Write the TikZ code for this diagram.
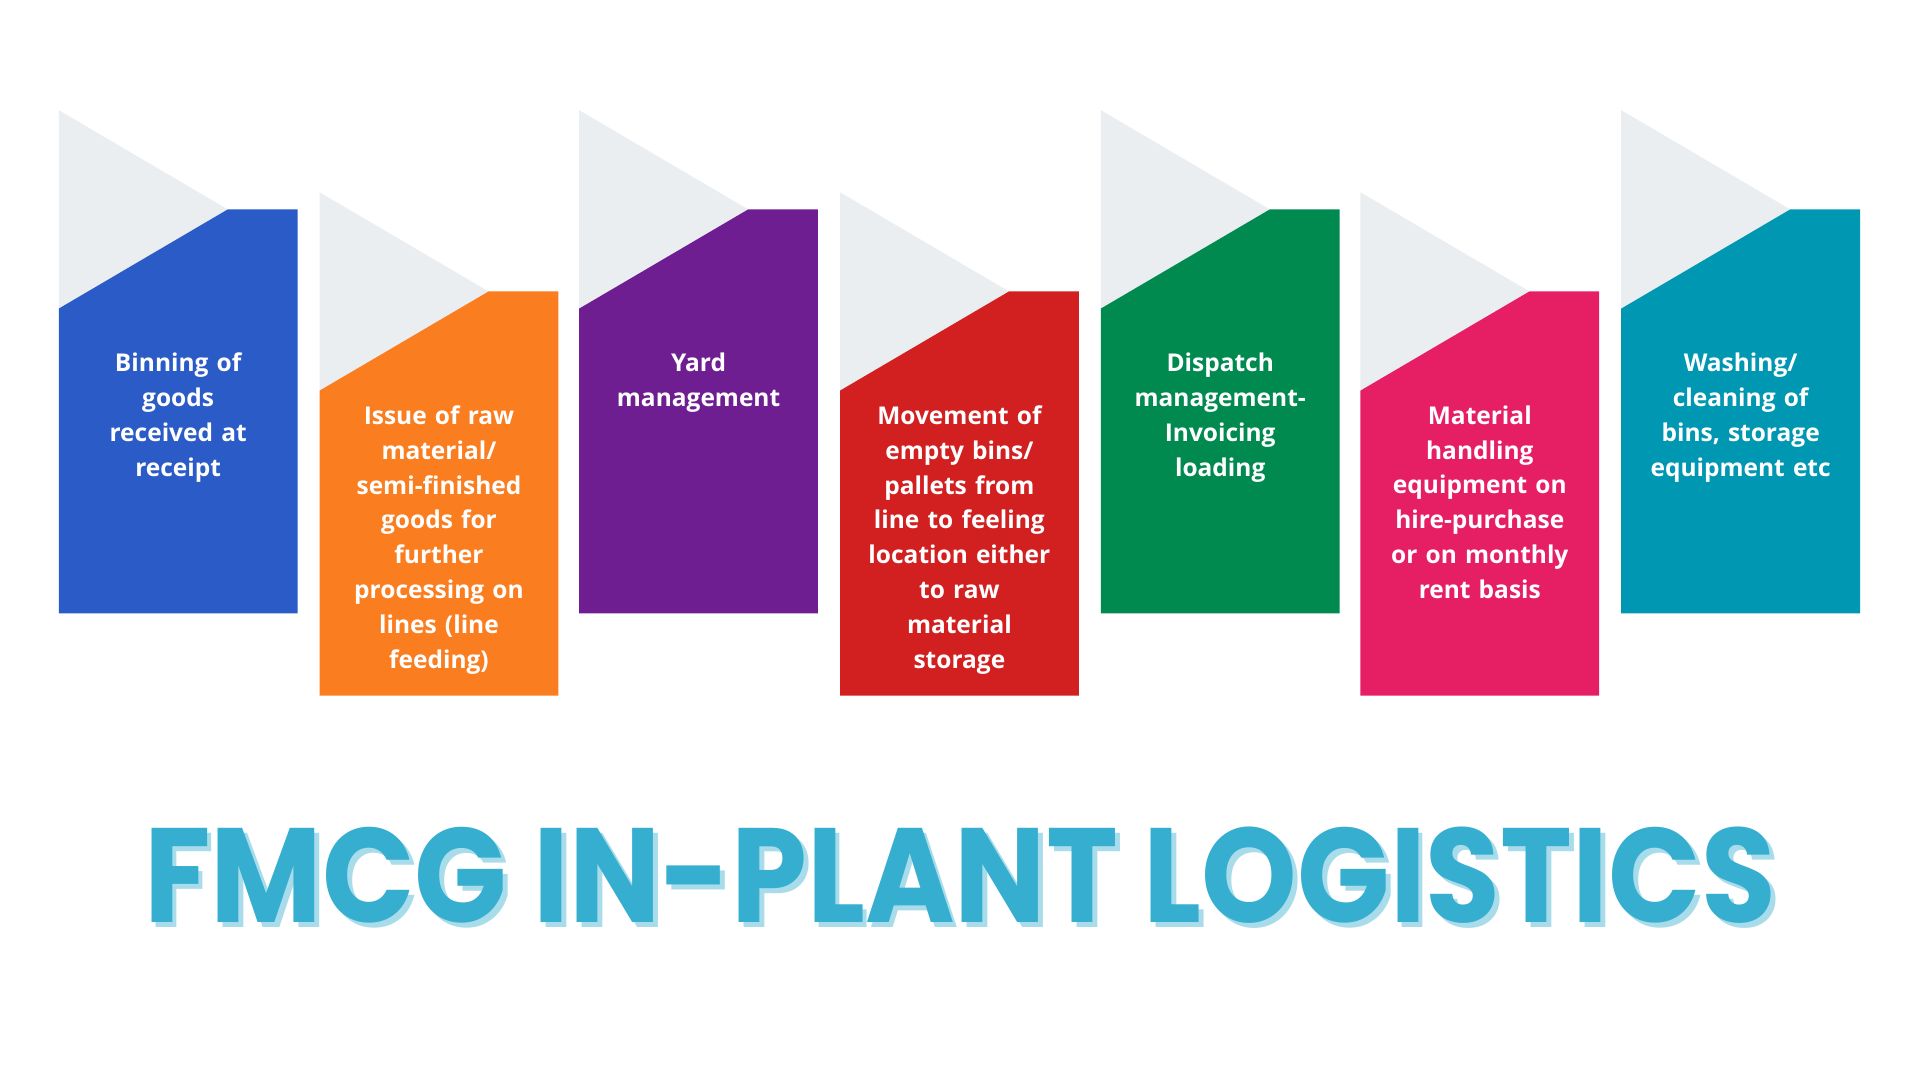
\documentclass[tikz,border=0pt]{standalone}
\usepackage{fontspec}
\setmainfont{Open Sans}
\newfontfamily\titlefont{Poppins}
\usepackage{graphicx}
\definecolor{cA}{HTML}{2A5BC7}
\definecolor{cB}{HTML}{FA7D20}
\definecolor{cC}{HTML}{6F1E92}
\definecolor{cD}{HTML}{D21F20}
\definecolor{cE}{HTML}{008A50}
\definecolor{cF}{HTML}{E61F64}
\definecolor{cG}{HTML}{0097B2}
\definecolor{gr}{HTML}{EAEEF1}
\definecolor{tt}{HTML}{35AECF}
\definecolor{ts}{HTML}{A8DCEA}
\tikzset{lbl/.style={text=white,font=\bfseries\fontsize{20}{28.5}\selectfont,align=center,text width=175pt,anchor=north,inner sep=0pt}}
\newcommand{\card}[6]{% x, ytop, color, name, text, textoffset
  \fill[gr] (#1,-#2+81) -- (#1+138,-#2) -- (#1,-#2-81) -- cycle;
  \fill[#3] (#1,-#2-81) -- (#1+138,-#2) -- (#1+195,-#2) -- (#1+195,-#2-330) -- (#1,-#2-330) -- cycle;
  \node[lbl] (#4) at (#1+97.5,-#2-#6) {#5};}
\begin{document}
\begin{tikzpicture}[x=1pt,y=1pt]
\useasboundingbox (0,0) rectangle (1568,-880);
\fill[white] (0,0) rectangle (1568,-880);
\card{48}{171}{cA}{a}{Binning of\\goods\\received at\\receipt}{117}
\card{261}{238}{cB}{b}{Issue of raw\\material/\\semi-finished\\goods for\\further\\processing on\\lines (line\\feeding)}{93}
\card{473}{171}{cC}{c}{Yard\\management}{117}
\card{686}{238}{cD}{d}{Movement of\\empty bins/\\pallets from\\line to feeling\\location either\\to raw\\material\\storage}{93}
\card{899}{171}{cE}{e}{Dispatch\\management-\\Invoicing\\loading}{117}
\card{1111}{238}{cF}{f}{Material\\handling\\equipment on\\hire-purchase\\or on monthly\\rent basis}{93}
\card{1324}{171}{cG}{g}{Washing/\\cleaning of\\bins, storage\\equipment etc}{117}
\node[text=ts] at (788,-719) {\resizebox{1332pt}{78pt}{\titlefont\bfseries FMCG IN-PLANT LOGISTICS}};
\node[text=tt] (t) at (784,-715) {\resizebox{1332pt}{78pt}{\titlefont\bfseries FMCG IN-PLANT LOGISTICS}};
\end{tikzpicture}
\end{document}
